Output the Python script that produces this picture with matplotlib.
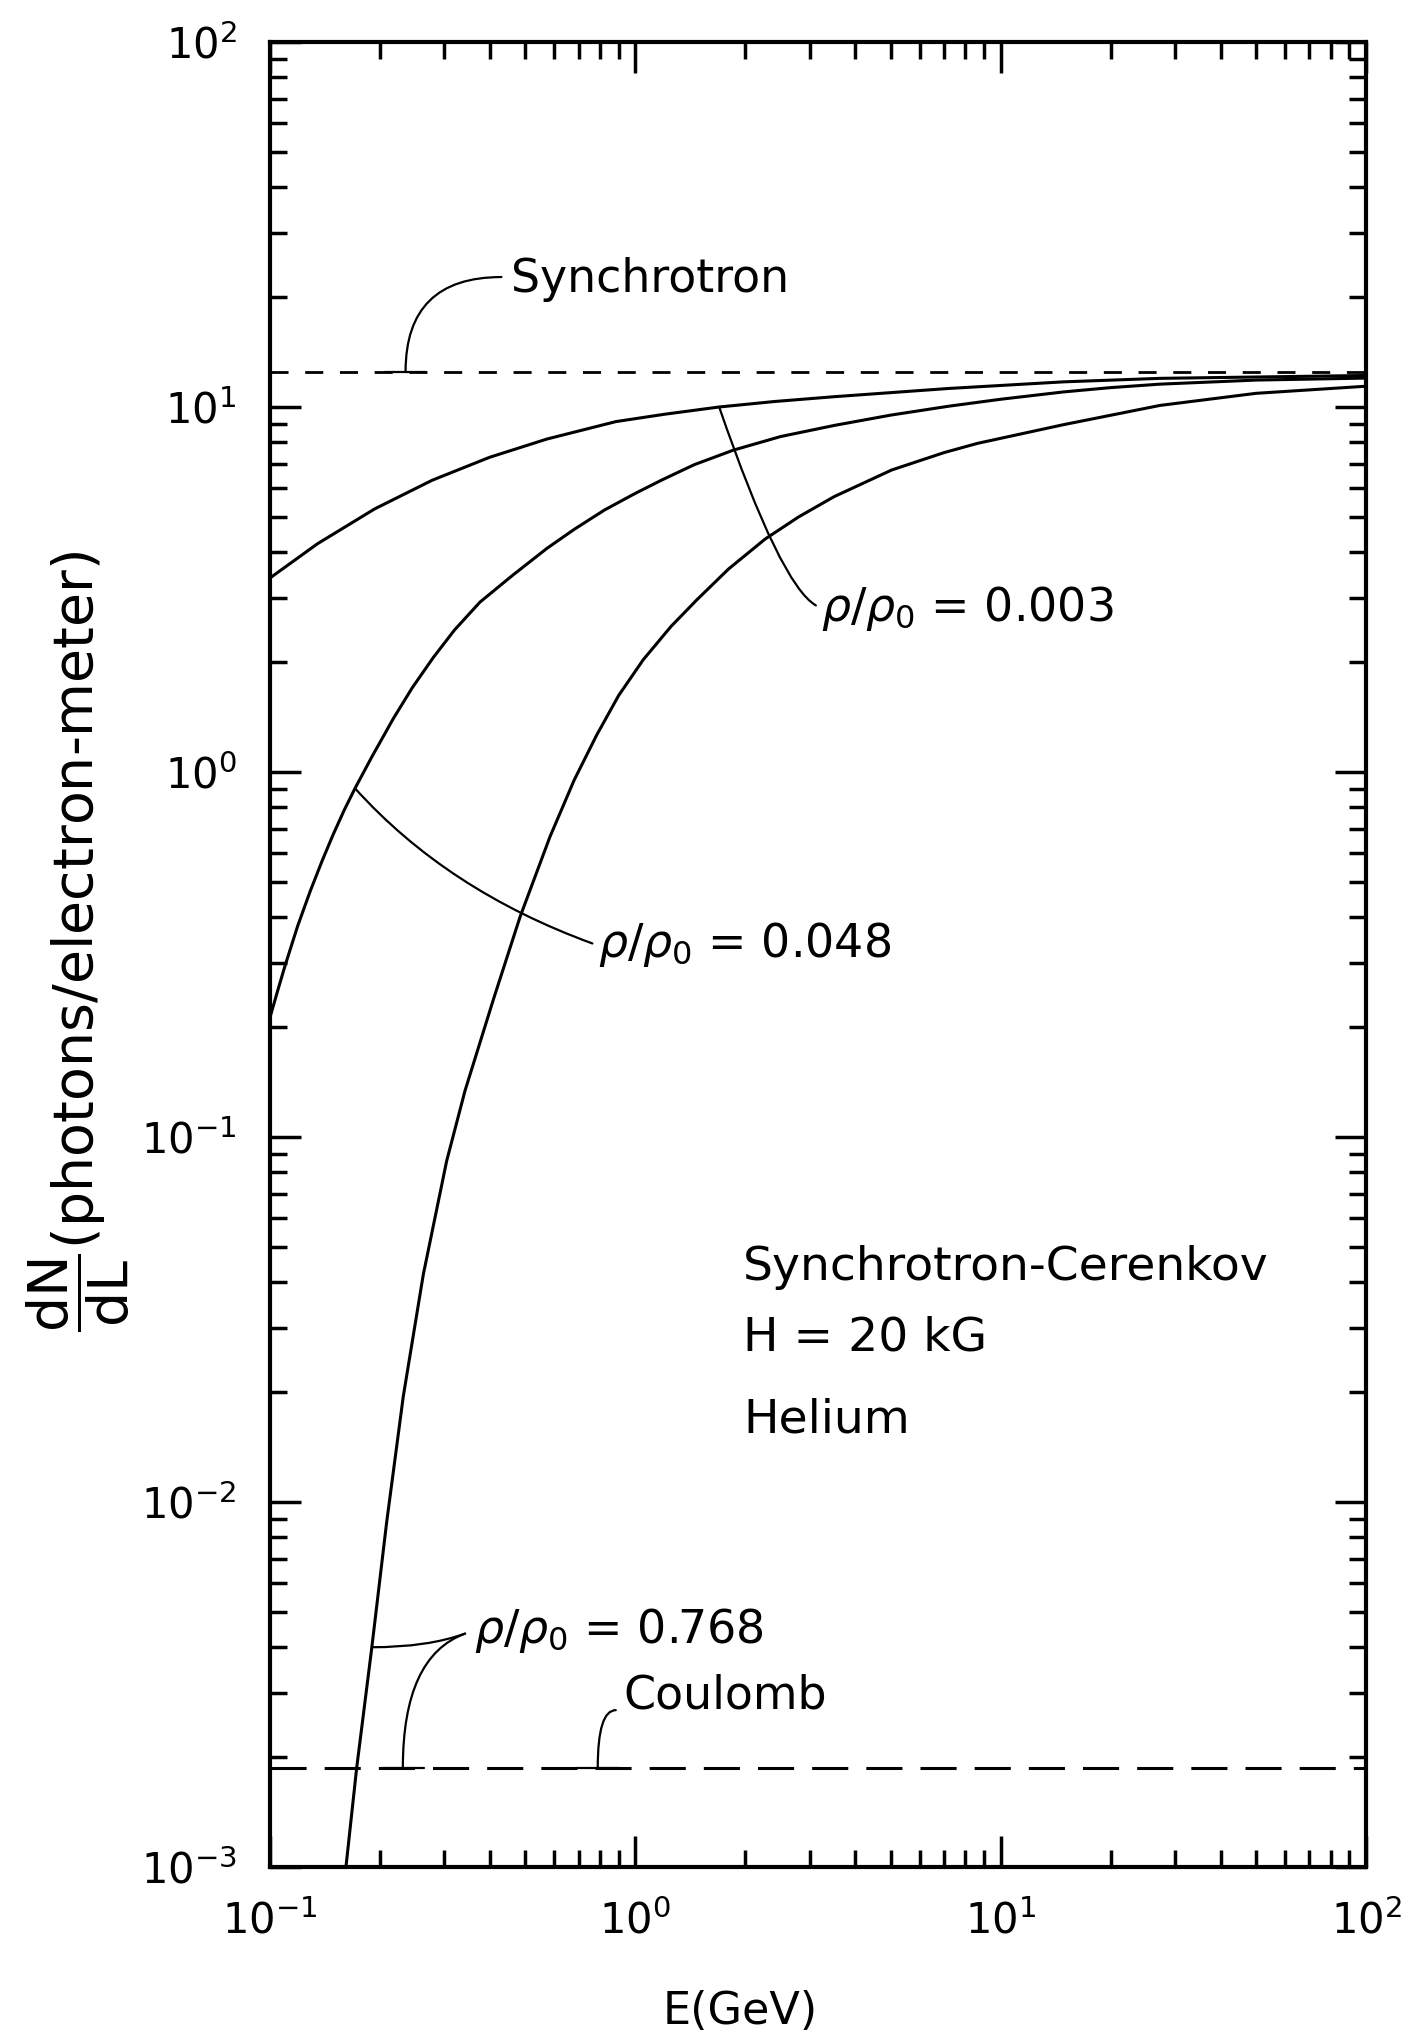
import numpy as np
import matplotlib
matplotlib.use('Agg')
import matplotlib.pyplot as plt
from matplotlib.ticker import LogLocator, NullFormatter

plt.rcParams['font.family'] = ['DejaVu Sans']
plt.rcParams['mathtext.fontset'] = 'dejavusans'
plt.rcParams['lines.scale_dashes'] = False

# curves: E in GeV, dN/dL in photons/electron-meter
energy_003 = [0.1, 0.1349, 0.1936, 0.278, 0.399, 0.573, 0.885, 1.2, 1.696, 2.4, 3.50,
              7.21, 14.9, 27.3, 100]
flux_003 = [3.40, 4.22, 5.26, 6.30, 7.28, 8.17, 9.12, 9.55, 10.0, 10.35, 10.67,
            11.24, 11.72, 11.98, 12.2]

energy_048 = [0.1, 0.105, 0.110, 0.119, 0.1287, 0.139, 0.149, 0.16, 0.1709, 0.19, 0.2175,
              0.245, 0.28, 0.32, 0.3756, 0.46, 0.573, 0.68, 0.823, 1.0, 1.182, 1.45,
              1.857, 2.5, 3.5, 5.0, 7.21, 10, 14.9, 20, 27.3, 50, 100]
flux_048 = [0.2126, 0.252, 0.295, 0.378, 0.470, 0.572, 0.675, 0.790, 0.902, 1.10, 1.40,
            1.70, 2.06, 2.45, 2.92, 3.45, 4.10, 4.62, 5.22, 5.80, 6.31, 6.95,
            7.62, 8.30, 8.90, 9.50, 10.05, 10.5, 11.0, 11.3, 11.55, 11.85, 12.0]

energy_768 = [0.1614, 0.1727, 0.19, 0.2086, 0.2317, 0.2628, 0.3045, 0.3419, 0.4087, 0.4832,
              0.584, 0.68, 0.783, 0.9, 1.051, 1.25, 1.472, 1.8, 2.268, 2.8, 3.5, 5.03,
              7.0, 8.64, 14.9, 27.3, 50, 100]
flux_768 = [0.001, 0.00187, 0.0040, 0.0088, 0.0195, 0.0420, 0.0860, 0.134, 0.238, 0.400,
            0.665, 0.95, 1.26, 1.62, 2.03, 2.50, 2.96, 3.60, 4.35, 5.0, 5.68, 6.72,
            7.5, 7.95, 8.95, 10.1, 10.9, 11.4]

synchrotron_level = 12.5
coulomb_level = 1.87e-3

fig = plt.figure(figsize=(14.24, 20.38), dpi=100)
ax = fig.add_axes([0.1896, 0.0839, 0.7697, 0.8955])
ax.set_xscale('log')
ax.set_yscale('log')
ax.set_xlim(0.1, 100)
ax.set_ylim(1e-3, 1e2)

for e, f in ((energy_003, flux_003), (energy_048, flux_048), (energy_768, flux_768)):
    ax.plot(e, f, color='black', lw=2.2, solid_capstyle='round', solid_joinstyle='round')

ax.axhline(synchrotron_level, color='black', lw=2.0, linestyle=(0, (13, 12)))
ax.axhline(coulomb_level, color='black', lw=2.2, linestyle=(0, (26, 13)))


def leader(start, end, conn, bar=False):
    style = '-[, widthB=0.75, lengthB=0' if bar else '-'
    ax.annotate('', xy=end, xytext=start,
                arrowprops=dict(arrowstyle=style, connectionstyle=conn, color='black',
                                lw=1.6, shrinkA=0, shrinkB=0, mutation_scale=20))


i003 = energy_003.index(1.696)
i048 = energy_048.index(0.1709)
i768 = energy_768.index(0.19)

# labels and their leader lines
txt = dict(fontsize=33, ha='left', va='center')
ax.text(0.456, 22.4, 'Synchrotron', **txt)
leader((0.430, 22.7), (0.235, synchrotron_level), 'angle3,angleA=0,angleB=90', bar=True)

ax.text(3.22, 2.81, r'$\rho/\rho_0$ = 0.003', **txt)
leader((3.12, 2.86), (energy_003[i003], flux_003[i003]), 'angle3,angleA=150,angleB=109')

ax.text(0.789, 0.336, r'$\rho/\rho_0$ = 0.048', **txt)
leader((0.763, 0.339), (energy_048[i048], flux_048[i048]), 'angle3,angleA=160,angleB=132')

ax.text(0.362, 0.00444, r'$\rho/\rho_0$ = 0.768', **txt)
leader((0.342, 0.00436), (energy_768[i768], flux_768[i768]), 'angle3,angleA=20,angleB=0')
leader((0.342, 0.00436), (0.231, coulomb_level), 'angle3,angleA=20,angleB=90', bar=True)

ax.text(0.929, 0.00294, 'Coulomb', **txt)
leader((0.884, 0.00269), (0.789, coulomb_level), 'angle3,angleA=0,angleB=90', bar=True)

block = dict(fontsize=34, ha='left', va='center')
ax.text(1.97, 0.044, 'Synchrotron-Cerenkov', **block)
ax.text(1.97, 0.0281, 'H = 20 kG', **block)
ax.text(1.97, 0.01675, 'Helium', **block)

# axes styling
ax.xaxis.set_major_locator(LogLocator(base=10, numticks=10))
ax.yaxis.set_major_locator(LogLocator(base=10, numticks=10))
ax.xaxis.set_minor_locator(LogLocator(base=10, subs=np.arange(2, 10), numticks=20))
ax.yaxis.set_minor_locator(LogLocator(base=10, subs=np.arange(2, 10), numticks=20))
ax.xaxis.set_minor_formatter(NullFormatter())
ax.yaxis.set_minor_formatter(NullFormatter())
ax.tick_params(which='both', direction='in', top=True, right=True, width=2.5)
ax.tick_params(which='major', length=22, labelsize=30)
ax.tick_params(which='minor', length=12)
ax.tick_params(axis='x', which='major', pad=24)
ax.tick_params(axis='y', which='major', pad=24)
for s in ax.spines.values():
    s.set_linewidth(3)

ax.set_xlabel('E(GeV)', fontsize=32, va='center')
ax.xaxis.set_label_coords(0.429, -0.079)
ax.set_ylabel(r'$\dfrac{\mathrm{dN}}{\mathrm{dL}}$(photons/electron-meter)', fontsize=40, va='center')
ax.yaxis.set_label_coords(-0.175, 0.507)

fig.savefig('out.png', dpi=100)
